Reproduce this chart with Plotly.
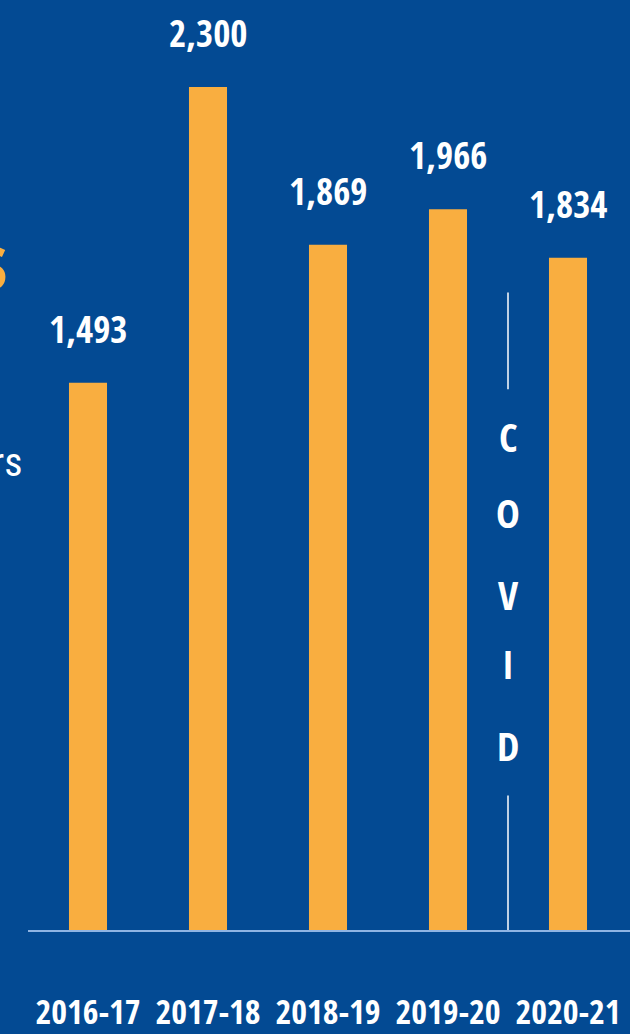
import plotly.graph_objects as go

years = ["2016-17", "2017-18", "2018-19", "2019-20", "2020-21"]
values = [1493, 2300, 1869, 1966, 1834]
value_labels = ["1,493", "2,300", "1,869", "1,966", "1,834"]
covid_letters = ["C", "O", "V", "I", "D"]
covid_letter_y = [1345, 1140, 915, 727, 504]

BG = "#034a93"
BAR = "#f9ae40"
FONT = "Open Sans Condensed, Roboto Condensed, sans-serif"
FONT_REG = "Roboto Condensed, sans-serif"

xs = list(range(len(years)))

fig = go.Figure()
fig.add_trace(go.Bar(
    x=xs, y=values, width=0.317,
    marker=dict(color=BAR, line=dict(width=0)),
    hoverinfo="skip",
))

annotations = []
for x, v, t in zip(xs, values, value_labels):
    annotations.append(dict(
        x=x, y=v, xref="x", yref="y", text=t, showarrow=False,
        yanchor="bottom", yshift=27,
        font=dict(family=FONT, size=37, color="white", weight="bold"),
    ))

for letter, ly in zip(covid_letters, covid_letter_y):
    annotations.append(dict(
        x=3.5, y=ly, xref="x", yref="y", text=letter, showarrow=False,
        font=dict(family=FONT, size=40, color="white", weight="bold"),
    ))

# partially visible text at left edge (cut off in the reference)
annotations.append(dict(
    x=(9 - 28) / 602, y=1830, xref="paper", yref="y", text="s", showarrow=False,
    xanchor="right", font=dict(family=FONT, size=76, color=BAR, weight="bold"),
))
annotations.append(dict(
    x=(24 - 28) / 602, y=1275, xref="paper", yref="y", text="rs", showarrow=False,
    xanchor="right", font=dict(family=FONT_REG, size=40, color="white"),
))

shapes = [
    dict(type="line", xref="x", yref="y", x0=3.5, x1=3.5, y0=1475, y1=1739,
         line=dict(color="white", width=1.5)),
    dict(type="line", xref="x", yref="y", x0=3.5, x1=3.5, y0=0, y1=367,
         line=dict(color="white", width=1.5)),
]

fig.update_layout(
    width=630, height=1034,
    margin=dict(l=28, r=0, t=0, b=102),
    paper_bgcolor=BG, plot_bgcolor=BG,
    showlegend=False,
    annotations=annotations,
    shapes=shapes,
    xaxis=dict(
        range=[-0.5, 4.5167],
        tickvals=xs, ticktext=years, tickangle=0,
        showgrid=False, zeroline=False,
        showline=True, linecolor="#8fb4e3", linewidth=2,
        ticks="", ticklabelstandoff=51,
        tickfont=dict(family=FONT, size=34, color="white", weight="bold"),
    ),
    yaxis=dict(range=[0, 2537], visible=False),
)

fig.write_html("out.html", config={"displayModeBar": False},
               post_script="document.body.style.margin='0';")
